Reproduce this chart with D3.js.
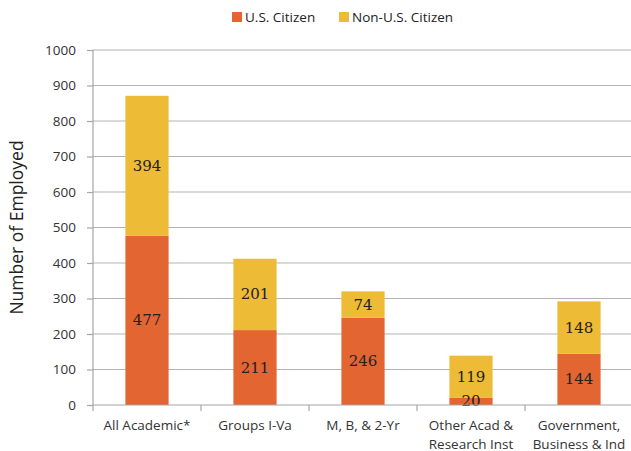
<!DOCTYPE html>
<html>
<head>
<meta charset="utf-8">
<script src="https://cdn.jsdelivr.net/npm/d3@7"></script>
<style>
  body { margin: 0; background: #fff; }
  text { font-family: "Open Sans", "Noto Sans", sans-serif; }
</style>
</head>
<body>
<svg width="631" height="451"></svg>
<script>
// chart data
const categories = [["All Academic*"], ["Groups I-Va"], ["M, B, & 2-Yr"], ["Other Acad &", "Research Inst"], ["Government,", "Business & Ind"]]
const usCitizen = [477, 211, 246, 20, 144]
const nonUsCitizen = [394, 201, 74, 119, 148]
const seriesNames = ["U.S. Citizen", "Non-U.S. Citizen"]
const yTicks = [0, 100, 200, 300, 400, 500, 600, 700, 800, 900, 1000]

const colors = ["#e36532", "#edbb35"]

const svg = d3.select("svg")
const margin = {left: 93, right: 0, top: 50, bottom: 46}
const W = 633, H = 451

const x = d3.scaleBand()
    .domain(d3.range(categories.length))
    .range([margin.left, W - margin.right])
    .paddingInner(0.6).paddingOuter(0.3)

const y = d3.scaleLinear().domain([0, 1000]).range([H - margin.bottom, margin.top])

// gridlines
svg.append("g")
    .selectAll("line")
    .data(yTicks.slice(1))
    .enter().append("line")
    .attr("x1", margin.left).attr("x2", W)
    .attr("y1", d => y(d)).attr("y2", d => y(d))
    .attr("stroke", "#b3b3b3").attr("stroke-width", 1.2)

// y axis
const yAxis = svg.append("g")
    .attr("transform", `translate(${margin.left},0)`)
    .call(d3.axisLeft(y).tickValues(yTicks).tickFormat(d3.format("d")).tickSize(6).tickPadding(11))
yAxis.selectAll("line, path").attr("stroke", "#a6a6a6").attr("stroke-width", 1.2)
yAxis.select(".domain").attr("d", `M0,${y(1000)}V${y(0)}`)
yAxis.selectAll("text").attr("font-size", 13.5).attr("fill", "#333")
    .style("font-family", "'Open Sans', sans-serif")

// stacked bars
const stacked = d3.stack().keys([0, 1])(usCitizen.map((v, i) => ({0: v, 1: nonUsCitizen[i]})))

svg.append("g")
    .selectAll("g")
    .data(stacked)
    .enter().append("g")
    .attr("fill", (d, i) => colors[i])
    .selectAll("rect")
    .data(d => d)
    .enter().append("rect")
    .attr("x", (d, i) => x(i))
    .attr("width", x.bandwidth())
    .attr("y", d => y(d[1]))
    .attr("height", d => y(d[0]) - y(d[1]))

// value labels
svg.append("g")
    .selectAll("g")
    .data(stacked)
    .enter().append("g")
    .selectAll("text")
    .data(d => d)
    .enter().append("text")
    .attr("x", (d, i) => x(i) + x.bandwidth() / 2)
    .attr("y", d => (y(d[0]) + y(d[1])) / 2 + 5)
    .attr("text-anchor", "middle")
    .attr("font-size", 15)
    .attr("fill", "#222")
    .style("font-family", "'DejaVu Serif', serif")
    .text(d => d[1] - d[0])

// x axis
const step = (W - margin.left) / categories.length
const xg = svg.append("g")
xg.append("line")
    .attr("x1", margin.left).attr("x2", W)
    .attr("y1", y(0)).attr("y2", y(0))
    .attr("stroke", "#a6a6a6").attr("stroke-width", 1.2)
xg.selectAll(".tick")
    .data(d3.range(categories.length + 1))
    .enter().append("line")
    .attr("x1", i => margin.left + i * step).attr("x2", i => margin.left + i * step)
    .attr("y1", y(0)).attr("y2", y(0) + 6)
    .attr("stroke", "#a6a6a6").attr("stroke-width", 1.2)

xg.selectAll("text")
    .data(categories)
    .enter().append("text")
    .attr("text-anchor", "middle")
    .attr("font-size", 13.5)
    .attr("fill", "#333")
    .attr("transform", (d, i) => `translate(${x(i) + x.bandwidth() / 2},${y(0) + 25})`)
    .selectAll("tspan")
    .data(d => d)
    .enter().append("tspan")
    .attr("x", 0)
    .attr("dy", (d, j) => j ? 18.5 : 0)
    .text(d => d)

// y axis title
svg.append("text")
    .attr("transform", `translate(23,${(y(0) + y(1000)) / 2}) rotate(-90)`)
    .attr("text-anchor", "middle")
    .attr("font-size", 17.5)
    .attr("fill", "#222")
    .text("Number of Employed")

// legend
const legendX = [232, 339]
const legend = svg.append("g")
    .selectAll("g")
    .data(seriesNames)
    .enter().append("g")
    .attr("transform", (d, i) => `translate(${legendX[i]},12)`)
legend.append("rect")
    .attr("width", 10).attr("height", 10)
    .attr("fill", (d, i) => colors[i])
legend.append("text")
    .attr("x", 13).attr("y", 10)
    .attr("font-size", 13.5)
    .attr("fill", "#222")
    .text(d => d)
</script>
</body>
</html>
